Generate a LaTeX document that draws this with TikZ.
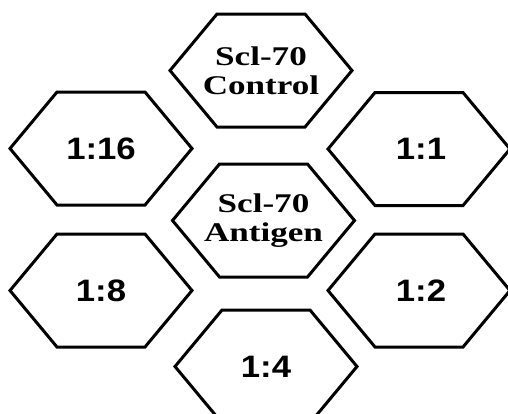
\documentclass[tikz,border=0pt]{standalone}
\usepackage{fontspec}
\newfontfamily\cellserif[FakeStretch=1.3]{Liberation Serif}
\newfontfamily\cellsans[FakeStretch=1.12]{Liberation Sans}

\tikzset{
    hexcell/.pic={
        \draw[line width=3bp, line join=miter]
            (-91,0) -- (-44,-56.5) -- (44,-56.5) -- (91,0)
            -- (44,56.5) -- (-44,56.5) -- cycle;
    },
    wellname/.style={align=center, font=\cellserif\bfseries\fontsize{27bp}{29bp}\selectfont, inner sep=0pt},
    titre/.style={font=\cellsans\bfseries\fontsize{31bp}{31bp}\selectfont, inner sep=0pt}
}

\begin{document}
\begin{tikzpicture}[x=1bp, y=-1bp]

\useasboundingbox (0,0) rectangle (508,413);

% Control well
\pic at (261,70.5) {hexcell};
\node[wellname] (ctrl) at (261,70.5) {Scl-70\\Control};

% Antigen well
\pic at (263.5,220.5) {hexcell};
\node[wellname] (antigen) at (263.5,220.5) {Scl-70\\Antigen};

% Dilution wells
\pic at (101,148.5) {hexcell};
\node[titre] (d16) at (101,148.5) {1:16};

\pic at (419,149) {hexcell};
\node[titre] (d1) at (421,149) {1:1};

\pic at (101,290.5) {hexcell};
\node[titre] (d8) at (101,290.5) {1:8};

\pic at (419,290.5) {hexcell};
\node[titre] (d2) at (421,290.5) {1:2};

\pic at (266,366.5) {hexcell};
\node[titre] (d4) at (266,366.5) {1:4};

\end{tikzpicture}
\end{document}
